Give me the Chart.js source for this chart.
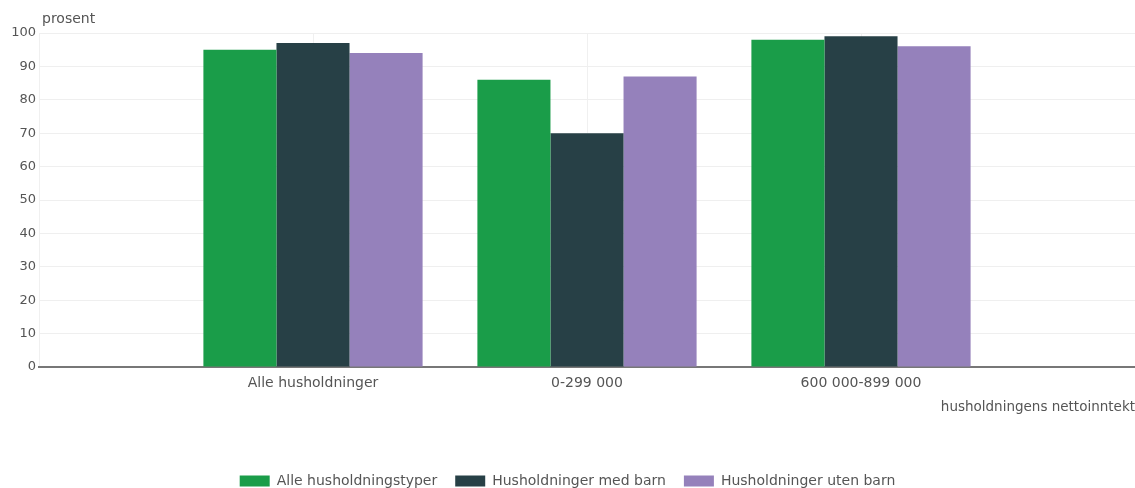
<!DOCTYPE html>
<html lang="no">
<head>
<meta charset="utf-8">
<title>Husholdninger etter nettoinntekt</title>
<script src="https://cdn.jsdelivr.net/npm/chart.js@4/dist/chart.umd.min.js"></script>
<style>
    html, body { margin: 0; padding: 0; background: #fff; }
    #wrap { width: 1135px; height: 488px; position: relative; }
</style>
</head>
<body>
<div id="wrap"><canvas id="chart"></canvas></div>
<script>
// Kategorier (tomme plasser i hver ende gir luft rundt gruppene)
const categories = ['', 'Alle husholdninger', '0-299 000', '600 000-899 000', ''];

// Verdier i prosent
const alleTyper = [null, 95, 86, 98, null];
const medBarn   = [null, 97, 70, 99, null];
const utenBarn  = [null, 94, 87, 96, null];

const yMin = 0;
const yMax = 100;
const yStep = 10;

const FONT = '"DejaVu Sans", Verdana, sans-serif';
const TEXT = '#555';

// "prosent" over y-aksen
const unitLabel = {
    id: 'unitLabel',
    afterDraw(chart) {
        const ctx = chart.ctx;
        ctx.save();
        ctx.font = '14px ' + FONT;
        ctx.fillStyle = TEXT;
        ctx.textAlign = 'left';
        ctx.textBaseline = 'middle';
        ctx.fillText('prosent', chart.chartArea.left + 3, 19);
        ctx.restore();
    }
};

// Legenden skal stå helt nederst: fast høyde på legendeboksen
const legendLower = {
    id: 'legendLower',
    beforeInit(chart) {
        const legend = chart.legend;
        if (!legend) return;
        const fit = legend.fit;
        legend.fit = function() {
            fit.call(this);
            this.height = 32;
        };
    }
};

new Chart(document.getElementById('chart'), {
    type: 'bar',
    data: {
        labels: categories,
        datasets: [
            { label: 'Alle husholdningstyper', data: alleTyper, backgroundColor: '#1a9d49' },
            { label: 'Husholdninger med barn', data: medBarn, backgroundColor: '#274046' },
            { label: 'Husholdninger uten barn', data: utenBarn, backgroundColor: '#9581bb' }
        ]
    },
    options: {
        responsive: true,
        maintainAspectRatio: false,
        animation: false,
        events: [],
        layout: { padding: { top: 33, right: 0, bottom: 0, left: 0 } },
        datasets: {
            bar: { barPercentage: 1.0, categoryPercentage: 0.8, borderWidth: 0 }
        },
        plugins: {
            legend: {
                position: 'bottom',
                labels: {
                    boxWidth: 30,
                    boxHeight: 11,
                    padding: 18,
                    color: TEXT,
                    font: { family: FONT, size: 14 }
                }
            },
            tooltip: { enabled: false }
        },
        scales: {
            x: {
                offset: false,
                grid: { offset: false, color: '#f0f0f0', drawTicks: true, tickLength: 8, tickColor: 'rgba(0,0,0,0)' },
                border: { display: true, color: '#777', width: 2 },
                ticks: {
                    autoSkip: false,
                    maxRotation: 0,
                    padding: 0,
                    color: TEXT,
                    font: { family: FONT, size: 14 }
                },
                title: {
                    display: true,
                    text: 'husholdningens nettoinntekt',
                    align: 'end',
                    color: TEXT,
                    font: { family: FONT, size: 13.5 },
                    padding: { top: 0, bottom: 40 }
                },
                afterFit(scale) { scale.height = 89; }
            },
            y: {
                min: yMin,
                max: yMax,
                grid: { color: '#efefef', drawTicks: false },
                border: { display: false },
                ticks: {
                    stepSize: yStep,
                    padding: 3,
                    color: TEXT,
                    font: { family: FONT, size: 13 }
                },
                afterFit(scale) { scale.width = 39; }
            }
        }
    },
    plugins: [unitLabel, legendLower]
});
</script>
</body>
</html>
